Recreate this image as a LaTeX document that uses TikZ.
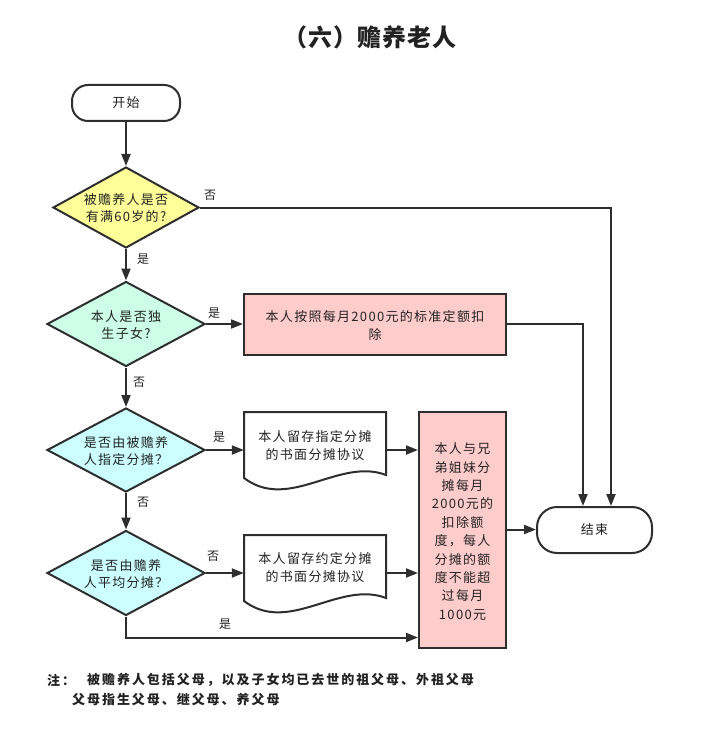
\documentclass[tikz,border=0pt]{standalone}
\usepackage{fontspec}
\setmainfont{Noto Sans CJK SC}
\newfontfamily\cjk[LetterSpace=10]{Noto Sans CJK SC}
\newfontfamily\notefont[LetterSpace=15]{Noto Sans CJK SC}
\newfontfamily\titlefont[LetterSpace=4]{Noto Sans CJK SC}
\usetikzlibrary{arrows.meta,shapes.geometric,calc}
\definecolor{ln}{HTML}{2E2E2E}
\definecolor{txt}{HTML}{222222}
\definecolor{yel}{HTML}{FFFF99}
\definecolor{mint}{HTML}{CCFFE6}
\definecolor{cyanlt}{HTML}{CCFFFF}
\definecolor{pinklt}{HTML}{FFCCCC}
\begin{document}
\begin{tikzpicture}[x=1pt,y=-1pt,
  line/.style={draw=ln, line width=2pt},
  arr/.style={line, -{Triangle[length=12pt,width=9pt]}},
  txtf/.style={text=txt, font=\cjk\fontsize{13}{18}\selectfont, align=center, inner sep=0},
  term/.style={draw=ln, line width=2pt, fill=white, txtf},
  dia/.style={diamond, draw=ln, line width=2pt, inner sep=0},
  dtext/.style={txtf, font=\cjk\fontsize{13}{17}\selectfont},
  boxst/.style={draw=ln, line width=2pt, fill=pinklt, inner sep=0},
  lab/.style={text=txt, font=\cjk\fontsize{12}{14}\selectfont, inner sep=0},
  docst/.style={draw=ln, line width=2pt, fill=white},
  notest/.style={text=txt, font=\notefont\bfseries\fontsize{13}{15}\selectfont, inner sep=0, anchor=west}
]
\useasboundingbox (0,0) rectangle (712,754);

% title
\node[text=txt, font=\titlefont\bfseries\fontsize{24}{27}\selectfont, inner sep=0] (title) at (370,37) {（六）赡养老人};

% start / end
\node[term, rounded corners=16pt, minimum width=108pt, minimum height=36pt] (s) at (126,103) {开始};
\node[term, rounded corners=20pt, minimum width=115pt, minimum height=46pt] (e) at (594.5,530) {结束};

% diamonds
\node[dia, fill=yel, minimum width=146pt, minimum height=81pt] (d1) at (126,207.5) {};
\node[dtext] (d1t) at (126,208) {被赡养人是否\\有满60岁的?};
\node[dia, fill=mint, minimum width=158pt, minimum height=85pt] (d2) at (126,324) {};
\node[dtext] (d2t) at (126,325) {本人是否独\\生子女?};
\node[dia, fill=cyanlt, minimum width=158pt, minimum height=84pt] (d3) at (126,450) {};
\node[dtext] (d3t) at (126,451) {是否由被赡养\\人指定分摊？};
\node[dia, fill=cyanlt, minimum width=158pt, minimum height=85pt] (d4) at (126,573) {};
\node[dtext] (d4t) at (126,574) {是否由赡养\\人平均分摊？};

% box 1
\node[boxst, minimum width=262pt, minimum height=61pt] (b1) at (375,324) {};
\node[txtf] (b1t) at (375,326) {本人按照每月2000元的标准定额扣\\除};

% box 2
\node[boxst, minimum width=87pt, minimum height=236pt] (b2) at (462.5,529.5) {};
\node[txtf, font=\cjk\fontsize{13}{18.4}\selectfont] (b2t) at (462.5,531.5) {本人与兄\\弟姐妹分\\摊每月\\2000元的\\扣除额\\度，每人\\分摊的额\\度不能超\\过每月\\1000元};

% documents
\node[minimum width=142pt, minimum height=76pt, inner sep=0] (doc1) at (315,450) {};
\begin{scope}[shift={(244,412)}]
  \path[docst] (0,0) -- (142,0) -- (142,63) .. controls (95,45) and (45,100) .. (0,66) -- cycle;
\end{scope}
\node[txtf] (doc1t) at (315,446) {本人留存指定分摊\\的书面分摊协议};

\node[minimum width=142pt, minimum height=76pt, inner sep=0] (doc2) at (315,573) {};
\begin{scope}[shift={(244,535)}]
  \path[docst] (0,0) -- (142,0) -- (142,63) .. controls (95,45) and (45,100) .. (0,66) -- cycle;
\end{scope}
\node[txtf] (doc2t) at (315,568) {本人留存约定分摊\\的书面分摊协议};

% connectors
\draw[arr] (s.south) -- (d1.north);
\draw[arr] (d1.east) -| ([xshift=16.5pt]e.north);
\draw[arr] (b1.east) -| ([xshift=-11.5pt]e.north);
\draw[arr] (d1.south) -- (d2.north);
\draw[arr] (d2.east) -- (d2.east -| b1.west);
\draw[arr] (d2.south) -- (d3.north);
\draw[arr] (d3.east) -- (doc1.west);
\draw[arr] (doc1.east) -- (doc1.east -| b2.west);
\draw[arr] (d3.south) -- (d4.north);
\draw[arr] (d4.east) -- (doc2.west);
\draw[arr] (doc2.east) -- (doc2.east -| b2.west);
\draw[arr] (d4.south) |- ([yshift=11pt]b2.south west);
\draw[arr] (b2.east) -- (b2.east -| e.west);

% labels
\node[lab] (l1) at (210,195) {否};
\node[lab] (l2) at (143,259) {是};
\node[lab] (l3) at (214,313) {是};
\node[lab] (l4) at (139,382) {否};
\node[lab] (l5) at (219,437) {是};
\node[lab] (l6) at (143,502) {否};
\node[lab] (l7) at (213,556) {否};
\node[lab] (l8) at (225,624) {是};

% note
\node[notest] (n0) at (47,680) {注：};
\node[notest] (n1) at (87,680) {被赡养人包括父母，以及子女均已去世的祖父母、外祖父母};
\node[notest] (n2) at (72,699) {父母指生父母、继父母、养父母};
\end{tikzpicture}
\end{document}
